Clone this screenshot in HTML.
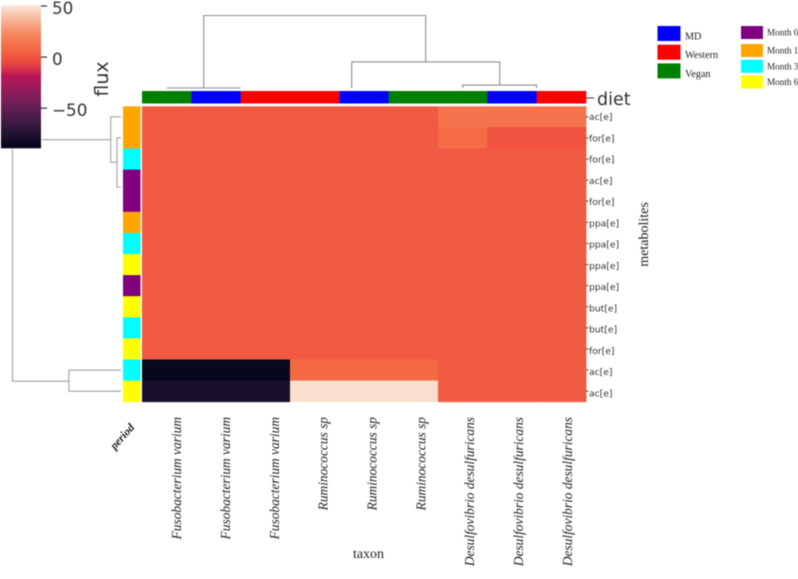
<!DOCTYPE html>
<html lang="en">
<head>
<meta charset="utf-8">
<title>Clustered flux heatmap</title>
<style>
html,body{margin:0;padding:0;background:#fff}
body{width:798px;height:579px;overflow:hidden}
svg{display:block;filter:blur(.45px)}
.serif{font-family:"Liberation Serif",serif;fill:#222}
.sans{font-family:"DejaVu Sans",sans-serif;fill:#333}
</style>
</head>
<body>
<svg id="chart" xmlns="http://www.w3.org/2000/svg" width="798" height="579" viewBox="0 0 798 579"></svg>
<script>
const taxa = ["Fusobacterium varium","Fusobacterium varium","Fusobacterium varium","Ruminococcus sp","Ruminococcus sp","Ruminococcus sp","Desulfovibrio desulfuricans","Desulfovibrio desulfuricans","Desulfovibrio desulfuricans"];
const metabolites = ["ac[e]","for[e]","for[e]","ac[e]","for[e]","ppa[e]","ppa[e]","ppa[e]","ppa[e]","but[e]","but[e]","for[e]","ac[e]","ac[e]"];
const diets = ["Vegan","MD","Western","Western","MD","Vegan","Vegan","MD","Western"];
const periods = ["Month 1","Month 1","Month 3","Month 0","Month 0","Month 1","Month 3","Month 6","Month 0","Month 6","Month 3","Month 6","Month 3","Month 6"];
const fluxValues = [
  [2,2,2,2,2,2,13,13,13],
  [2,2,2,2,2,2,10,-1,-1],
  [2,2,2,2,2,2,2,2,2],
  [2,2,2,2,2,2,2,2,2],
  [2,2,2,2,2,2,2,2,2],
  [2,2,2,2,2,2,2,2,2],
  [2,2,2,2,2,2,2,2,2],
  [2,2,2,2,2,2,2,2,2],
  [2,2,2,2,2,2,2,2,2],
  [2,2,2,2,2,2,2,2,2],
  [2,2,2,2,2,2,2,2,2],
  [2,2,2,2,2,2,2,2,2],
  [-87,-87,-87,9,9,9,2,2,2],
  [-78,-78,-78,48,48,48,2,2,2]
];
const colorbarTicks = [50,0,-50];
const dietLegend = ["MD","Western","Vegan"];
const periodLegend = ["Month 0","Month 1","Month 3","Month 6"];
/* linkages: [left leaf position, right leaf position, merge height, left child height, right child height] */
const columnLinkage = [
  [0.5,2,0,0,0],
  [6.5,8,4,0,0],
  [4.25,7.25,36,0,4],
  [1.25,5.75,100,0,36]
];
const rowLinkage = [
  [1.5,3.83,3.7,0,0],
  [0.5,2.65,9.5,0,3.7],
  [12.5,13.5,48,0,0],
  [1.58,13.03,100,9.5,48]
];

const dietColor = {MD:"#0000ff",Western:"#ff0000",Vegan:"#008000"};
const periodColor = {"Month 0":"#800080","Month 1":"#ffa500","Month 3":"#00ffff","Month 6":"#ffff00"};
const rocket = ["#03051a","#221331","#451c47","#6a1f56","#921c5b","#b91657","#ec4a3e","#f56a45","#f58860","#f7b799","#faebdd"];
const vMin = -89, vMax = 51;

const heat = {x:142,y:106.3,w:444,h:295.4};
const cw = heat.w/taxa.length, rh = heat.h/metabolites.length;
const xScale = p => heat.x + p*cw;
const yScale = p => heat.y + p*rh;
const topDendro = h => 88 - h*0.725;
const leftDendro = h => 121 - h*1.085;
const cbar = {x:1,y:5,w:40,h:143};
const cbarY = v => cbar.y + (vMax-v)/(vMax-vMin)*cbar.h;

function hex(c){return [1,3,5].map(i=>parseInt(c.substr(i,2),16));}
function colormap(v){
  const t = Math.max(0,Math.min(1,(v-vMin)/(vMax-vMin)))*(rocket.length-1);
  const i = Math.min(rocket.length-2,Math.floor(t)), f = t-i;
  const a = hex(rocket[i]), b = hex(rocket[i+1]);
  return "rgb("+a.map((k,n)=>Math.round(k+(b[n]-k)*f)).join(",")+")";
}
const svg = document.getElementById("chart");
function make(tag,attrs,parent,text){
  const el = document.createElementNS("http://www.w3.org/2000/svg",tag);
  for(const k in attrs) el.setAttribute(k,attrs[k]);
  if(text!==undefined) el.textContent = text;
  (parent||svg).appendChild(el);
  return el;
}
function group(name){
  const g = make("g",{});
  
  
  return g;
}

/* dendrograms */
const topG = group("column-dendrogram");
columnLinkage.forEach(m=>{
  const d = "M"+xScale(m[0])+" "+topDendro(m[3])+"V"+topDendro(m[2])+"H"+xScale(m[1])+"V"+topDendro(m[4]);
  const p = make("path",{d:d,fill:"none",stroke:"#8c8c8c","stroke-width":1.1},topG);
  
  
});
const leftG = group("row-dendrogram");
rowLinkage.forEach(m=>{
  const d = "M"+leftDendro(m[3])+" "+yScale(m[0])+"H"+leftDendro(m[2])+"V"+yScale(m[1])+"H"+leftDendro(m[4]);
  const p = make("path",{d:d,fill:"none",stroke:"#a0a0a0","stroke-width":1.1},leftG);
  
  
});

/* diet annotation bar */
const dietG = group("diet-annotation-bar");
diets.forEach((d,i)=>{
  const r = make("rect",{x:xScale(i),y:91,width:cw+.3,height:12.5,fill:dietColor[d]},dietG);
  
  
});
make("line",{x1:586,x2:594,y1:98,y2:98,stroke:"#333","stroke-width":1},dietG);
const dietLabel = make("text",{x:597,y:105,"font-size":17.5,class:"sans"},svg,"diet");



/* period annotation bar */
const periodG = group("period-annotation-bar");
periods.forEach((d,i)=>{
  const r = make("rect",{x:123,y:yScale(i),width:17.5,height:rh+.3,fill:periodColor[d]},periodG);
  
  
});
const periodLabel = make("text",{x:0,y:0,"font-size":11.5,"font-weight":"bold","font-style":"italic","text-anchor":"middle",class:"serif",transform:"translate(125,439) rotate(-48)"},svg,"period");



/* heatmap cells */
const cellG = group("heatmap-cells");
fluxValues.forEach((row,r)=>row.forEach((v,c)=>{
  const cell = make("rect",{x:xScale(c),y:yScale(r),width:cw+.4,height:rh+.4,fill:colormap(v)},cellG);
  
  
}));

/* row labels */
metabolites.forEach((m,i)=>{
  const y = yScale(i+.5);
  make("line",{x1:heat.x+heat.w,x2:heat.x+heat.w+2.5,y1:y,y2:y,stroke:"#444","stroke-width":1});
  const t = make("text",{x:589,y:y+3.3+i*0.15,"font-size":9.2,class:"sans"},svg,m);
  
  
});

/* column labels */
taxa.forEach((m,i)=>{
  const x = xScale(i+.5)+14.4-i*0.49;
  const t = make("text",{x:0,y:0,"font-size":13.4,"font-style":"italic","text-anchor":"end",class:"serif",transform:"translate("+x+",417) rotate(-90)"},svg,m);
  
  
});

const xTitle = make("text",{x:368.5,y:558,"font-size":14,"text-anchor":"middle",class:"serif"},svg,"taxon");


const yTitle = make("text",{x:0,y:0,"font-size":14,"text-anchor":"middle",class:"serif",transform:"translate(648,234.5) rotate(-90)"},svg,"metabolites");



/* colorbar */
const barG = group("flux-colorbar");
make("rect",{x:0,y:0,width:42,height:149,fill:"#fff"},barG);
const steps = 143;
for(let i=0;i<steps;i++){
  const s = make("rect",{x:cbar.x,y:cbar.y+i,width:cbar.w,height:1.3,fill:colormap(vMax-(i+.5)/steps*(vMax-vMin))},barG);
  
  
}
colorbarTicks.forEach(v=>{
  const y = cbarY(v);
  make("line",{x1:41,x2:47,y1:y,y2:y,stroke:"#333","stroke-width":1.2},barG);
  const t = make("text",{x:52,y:y+7.8,"font-size":16.8,class:"sans"},barG,String(v).replace("-","\u2212"));
  
  
});
const cbTitle = make("text",{x:0,y:0,"font-size":19,"text-anchor":"middle",class:"sans",transform:"translate(108,79) rotate(-90)"},svg,"flux");



/* legends */
const dietLeg = group("diet-legend");
dietLegend.forEach((d,i)=>{
  const y = 26 + i*18.7;
  const s = make("rect",{x:657.5,y:y,width:23,height:15,fill:dietColor[d]},dietLeg);
  
  
  const t = make("text",{x:685,y:y+13.5,"font-size":10.2,class:"serif"},dietLeg,d);
  
  
});
const periodLeg = group("period-legend");
periodLegend.forEach((d,i)=>{
  const y = i === 0 ? 26 : 44 + (i-1)*15.75;
  const s = make("rect",{x:741,y:y,width:22,height:13,fill:periodColor[d]},periodLeg);
  
  
  const t = make("text",{x:767,y:y+9.5,"font-size":9.2,class:"serif"},periodLeg,d);
  
  
});
</script>
</body>
</html>
